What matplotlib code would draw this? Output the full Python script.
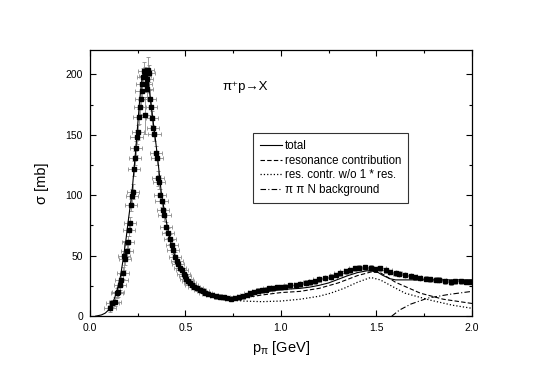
#!/usr/bin/python3

import numpy as np
import matplotlib
matplotlib.use('Agg')
import matplotlib.pyplot as plt
from matplotlib.ticker import MultipleLocator

plt.rcParams['font.family'] = ['Liberation Sans', 'DejaVu Sans']
plt.rcParams['mathtext.fontset'] = 'custom'
plt.rcParams['mathtext.rm'] = 'Liberation Sans'
plt.rcParams['mathtext.it'] = 'Liberation Sans'

# measured cross section: p [GeV], sigma [mb], error [mb]
p_data = [0.105, 0.118, 0.13, 0.141, 0.148, 0.157, 0.165, 0.173, 0.178, 0.185,
          0.193, 0.199, 0.204, 0.209, 0.215, 0.22, 0.225, 0.23, 0.236, 0.241,
          0.244, 0.251, 0.256, 0.262, 0.266, 0.27, 0.275, 0.279, 0.284, 0.288,
          0.29, 0.293, 0.297, 0.300, 0.303, 0.307, 0.312, 0.318, 0.325, 0.331,
          0.338, 0.345, 0.35, 0.357, 0.362, 0.368, 0.375, 0.382, 0.39, 0.4,
          0.41, 0.419, 0.428, 0.435, 0.445, 0.455, 0.462, 0.47, 0.48, 0.49,
          0.497, 0.505, 0.513, 0.522, 0.532, 0.545, 0.56, 0.575, 0.59, 0.605,
          0.62, 0.64, 0.66, 0.68, 0.7, 0.72, 0.74, 0.76, 0.78, 0.8,
          0.82, 0.84, 0.86, 0.88, 0.9, 0.92, 0.94, 0.96, 0.98, 1.0,
          1.02, 1.05, 1.08, 1.1, 1.13, 1.15, 1.18, 1.2, 1.23, 1.26,
          1.29, 1.31, 1.34, 1.36, 1.39, 1.41, 1.44, 1.47, 1.49, 1.52,
          1.55, 1.57, 1.6, 1.62, 1.65, 1.68, 1.7, 1.73, 1.76, 1.78,
          1.81, 1.83, 1.86, 1.89, 1.91, 1.94, 1.97, 1.99]
sig_data = [6.5, 10.5, 12, 19, 20, 25.5, 30, 36, 50, 47,
            54, 61, 71, 77, 92, 99, 103, 122, 131, 139,
            148, 152, 165, 173, 180, 186, 192, 198, 203, 199,
            166, 192, 188, 196, 204, 201, 180, 173, 164, 156,
            151, 135, 131, 114, 111, 100, 95, 88, 84, 74,
            69, 64, 59, 55, 49, 46, 43, 40, 38, 35,
            33, 31, 29, 27.5, 26, 24.5, 23, 22, 21, 19.5,
            18.5, 17.5, 16.5, 16, 15.5, 15, 14.5, 15, 15.5, 16.5,
            17.5, 19, 20, 21, 21.5, 22, 23, 23, 24, 24,
            24.5, 25.5, 25.5, 26.5, 27.5, 28, 29, 30.5, 31.5, 32.5,
            34, 35.5, 37, 38, 39.5, 40, 40.5, 40, 39, 39.5,
            38, 36.5, 35.5, 35, 34, 33, 32, 31.5, 31, 30.5,
            30, 30, 29, 28, 29, 29, 28.5, 28.5]
err_data = [3, 3, 4, 4, 4, 4, 5, 5, 12, 5,
            5, 5, 5, 5, 5, 6, 6, 6, 6, 6,
            6, 6, 6, 6, 6, 7, 7, 7, 7, 7,
            15, 7, 7, 7, 10, 7, 7, 7, 6, 6,
            6, 6, 6, 6, 6, 5, 5, 5, 5, 4,
            4, 4, 4, 4, 4, 3, 3, 3, 3, 3,
            3, 3, 2, 2, 2, 2, 2, 2, 2, 2,
            2, 2, 2, 2, 2, 2, 2, 2, 2, 2,
            2, 2, 2, 2, 2, 2, 2, 2, 2, 2,
            2, 2, 2, 2, 2, 2, 2, 2, 2, 2,
            2, 2, 2, 2, 2, 2, 2, 2, 2, 2,
            2, 2, 2, 2, 2, 2, 2, 2, 2, 2,
            2, 2, 2, 2, 2, 2, 2, 2]
p_err = 0.032

# model curves
p_tot = [0.03, 0.06, 0.08, 0.10, 0.12, 0.14, 0.16, 0.175, 0.19, 0.20, 0.21, 0.22,
         0.23, 0.24, 0.25, 0.26, 0.27, 0.28, 0.29, 0.30, 0.31, 0.32, 0.33, 0.34,
         0.355, 0.375, 0.39, 0.41, 0.43, 0.445, 0.47, 0.50, 0.55, 0.60, 0.65, 0.70,
         0.75, 0.80, 0.85, 0.90, 0.95, 1.00, 1.05, 1.10, 1.15, 1.20, 1.25, 1.30,
         1.35, 1.40, 1.45, 1.50, 1.53, 1.57, 1.60, 1.70, 1.80, 1.90, 2.00]
sig_tot = [0, 1, 2.5, 5.5, 11, 20, 33, 48, 65, 78, 90, 102,
           120, 138, 158, 178, 193, 202, 205, 200, 188, 175, 162, 150,
           130, 100, 87, 70, 57, 50, 41, 32, 24, 19.5, 16.5, 15,
           14.5, 15.5, 17.5, 19.5, 21, 22, 22.5, 23, 24, 25.5, 27.5, 30.5,
           33.5, 36, 37.5, 37, 34, 31, 30, 30, 30, 30, 30]

p_res = [0.60, 0.70, 0.80, 0.90, 1.00, 1.10, 1.20, 1.30, 1.40, 1.47, 1.52,
         1.60, 1.73, 1.85, 2.00]
sig_res = [19.5, 15, 15, 17.5, 19.5, 20.5, 23, 27.5, 33.5, 36.5, 36,
           28, 19, 14, 10.5]

p_res1 = [0.60, 0.70, 0.75, 0.80, 0.90, 1.00, 1.10, 1.20, 1.26, 1.33, 1.40,
          1.47, 1.52, 1.59, 1.65, 1.78, 1.90, 2.00]
sig_res1 = [19.5, 15, 13.5, 12.5, 12, 12.5, 14, 16.5, 19, 23, 28,
            32, 30, 24, 19, 13.3, 9, 6.5]

p_bg = [1.58, 1.62, 1.68, 1.77, 1.88, 2.00]
sig_bg = [0, 5, 10, 15, 18, 20.5]

fig = plt.figure(figsize=(5.45, 3.8), dpi=100)
ax = fig.add_axes([0.165, 0.168, 0.701, 0.7])

ax.errorbar(p_data, sig_data, xerr=p_err, yerr=err_data, fmt='s', color='black',
            markersize=3, ecolor='0.55', elinewidth=0.6, capsize=1.5,
            capthick=0.6, zorder=2)
ax.plot(p_tot, sig_tot, '-', color='black', lw=0.8, label='total', zorder=3)
ax.plot(p_res, sig_res, '--', color='black', lw=0.8, dashes=(4, 2),
        label='resonance contribution')
ax.plot(p_res1, sig_res1, ':', color='black', lw=0.9,
        label='res. contr. w/o 1 * res.')
ax.plot(p_bg, sig_bg, '-.', color='black', lw=0.8, dashes=(5, 2, 1, 2),
        label='π π N background')

ax.set_xlim(0, 2.0)
ax.set_ylim(0, 220)
ax.xaxis.set_major_locator(MultipleLocator(0.5))
ax.xaxis.set_minor_locator(MultipleLocator(0.25))
ax.yaxis.set_major_locator(MultipleLocator(50))
ax.yaxis.set_minor_locator(MultipleLocator(25))
ax.xaxis.set_major_formatter(plt.FormatStrFormatter('%.1f'))
ax.tick_params(which='both', direction='in', top=True, right=True,
               labelsize=7.5, width=0.8)
ax.tick_params(which='major', length=4, pad=5)
ax.tick_params(which='minor', length=2.5)
for s in ax.spines.values():
    s.set_linewidth(0.9)

ax.set_xlabel(r'p$_{\pi}$ [GeV]', fontsize=10.5)
ax.set_ylabel('σ [mb]', fontsize=10.5, labelpad=12)
ax.text(0.406, 0.86, 'π⁺p→X', transform=ax.transAxes, fontsize=9.5,
        ha='center', va='center')

leg = ax.legend(loc='upper left', bbox_to_anchor=(0.427, 0.688), fontsize=8.3,
                frameon=True, fancybox=False, edgecolor='black',
                handlelength=1.9, labelspacing=0.22, borderpad=0.6,
                handletextpad=0.25, borderaxespad=0)
leg.get_frame().set_linewidth(0.8)

fig.savefig('out.png', dpi=100)
